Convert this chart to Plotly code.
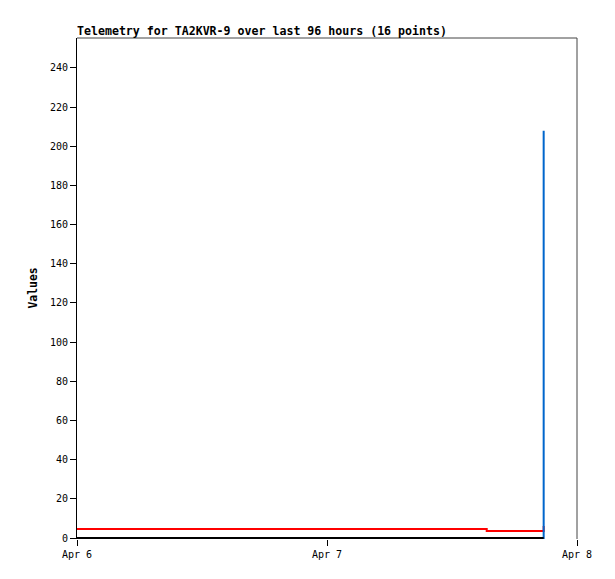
"""
Telemetry chart for TA2KVR-9 (last 96 hours, 16 points).
"""

import plotly.graph_objects as go

# ─────────────────────────────────────────────────────────────────────────────
# DATA
# ─────────────────────────────────────────────────────────────────────────────

TIMES = [
    "2024-04-04 01:10", "2024-04-04 07:35", "2024-04-04 14:02", "2024-04-04 20:30",
    "2024-04-05 03:15", "2024-04-05 09:40", "2024-04-05 16:05", "2024-04-05 22:30",
    "2024-04-06 04:55", "2024-04-06 11:20", "2024-04-06 17:45", "2024-04-07 00:10",
    "2024-04-07 06:35", "2024-04-07 11:00", "2024-04-07 15:20", "2024-04-07 20:48",
]
RED_VALUES = [4.6] * 14 + [3.6, 6.1]
BLUE_VALUES = [0] * 15 + [208]
BLACK_VALUES = [0] * 16

X_RANGE = ["2024-04-06 00:00", "2024-04-08 00:00"]
TITLE = "Telemetry for TA2KVR-9 over last 96 hours (16 points)"
FONT = "DejaVu Sans Mono"

# el navegador deja 8 px de margen en el body: el lienzo se encoge 8 px
W, H = 607, 571

# ─────────────────────────────────────────────────────────────────────────────
# FIGURE
# ─────────────────────────────────────────────────────────────────────────────

fig = go.Figure()

for vals, color in [(RED_VALUES, "#ff0000"),
                    (BLUE_VALUES, "#0066cc"),
                    (BLACK_VALUES, "#000000")]:
    fig.add_trace(go.Scatter(
        x=TIMES, y=vals,
        mode="lines",
        line=dict(color=color, width=2, shape="hv"),
        showlegend=False,
        hoverinfo="skip",
    ))

fig.update_layout(
    width=W, height=H,
    margin=dict(l=69, r=38, t=30, b=40),
    paper_bgcolor="white",
    plot_bgcolor="white",
    font=dict(family=FONT, size=10, color="black"),
    title=dict(
        text=f"<b>{TITLE}</b>",
        x=0, xref="paper", xanchor="left",
        y=1 - 23 / H, yref="container", yanchor="middle",
        font=dict(family=FONT, size=11.6, color="black"),
    ),
    xaxis=dict(
        type="date",
        range=X_RANGE,
        dtick=86400000,
        tickformat="%b %-d",
        showgrid=False, zeroline=False, showline=False,
        ticks="outside", ticklen=6, tickcolor="black",
    ),
    yaxis=dict(
        range=[-0.5, 255.3],
        tick0=0, dtick=20,
        showgrid=False, zeroline=False,
        showline=True, linecolor="black", linewidth=1,
        ticks="outside", ticklen=6, tickcolor="black",
    ),
    annotations=[dict(
        text="<b>Values</b>",
        xref="paper", yref="paper",
        x=(32 - 77) / 500, y=0.5,
        xanchor="center", yanchor="middle",
        textangle=-90, showarrow=False,
        font=dict(family=FONT, size=11.4, color="black"),
    )],
    shapes=[
        dict(type="line", xref="paper", yref="paper",
             x0=0, x1=1, y0=1, y1=1, line=dict(color="#444444", width=1)),
        dict(type="line", xref="paper", yref="paper",
             x0=1, x1=1, y0=0, y1=1, line=dict(color="#444444", width=1)),
    ],
)

fig.write_html("out.html")
